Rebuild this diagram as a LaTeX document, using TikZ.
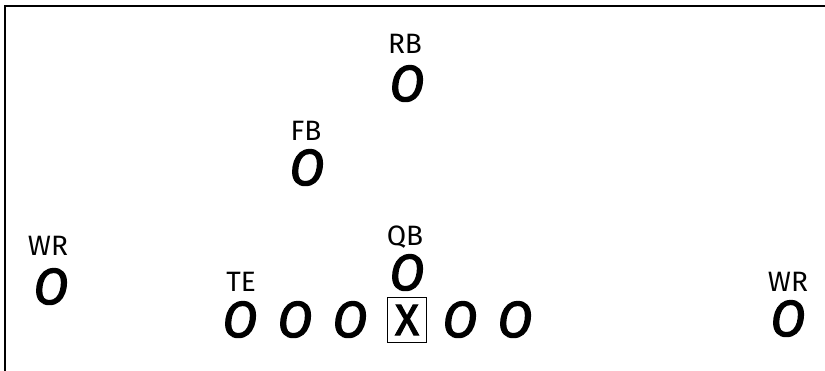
\documentclass[tikz,border=0pt]{standalone}
\usepackage{fontspec}
\setmainfont{Fira Sans}
\newfontfamily\playerfont[FakeBold=2.5,ItalicFeatures={FakeBold=2.5}]{Fira Sans}
\usetikzlibrary{positioning}
\tikzset{
    % Player markers
    player/.style={
        inner sep=0pt,
        anchor=base,
        font=\playerfont\fontsize{38}{38}\selectfont\itshape
    },
    % Position labels
    poslabel/.style={
        inner sep=0pt,
        anchor=base,
        font=\fontsize{21}{21}\selectfont
    },
    % Boxed center
    centerbox/.style={
        draw=black,
        line width=1pt,
        inner sep=0pt,
        minimum width=29pt,
        minimum height=34pt,
        font=\playerfont\fontsize{33}{33}\selectfont
    },
    % Field edges
    fieldedge/.style={
        line width=1.4pt,
        black
    }
}

\begin{document}
\begin{tikzpicture}[x=0.75pt,y=-0.75pt]
\useasboundingbox (0,0) rectangle (825,371);

% === FIELD EDGES ===
\coordinate (edgebl) at (5,371);
\coordinate (edgetl) at (5,6);
\coordinate (edgetr) at (825,6);
\draw[fieldedge] (edgebl) -- (edgetl) -- (edgetr);

% === BACKFIELD ===
\node[poslabel] (rblabel) at (405,53) {RB};
\node[player] (rb) at (407,101) {O};

\node[poslabel] (fblabel) at (306,140) {FB};
\node[player] (fb) at (307,185) {O};

\node[poslabel] (qblabel) at (405,245) {QB};
\node[player] (qb) at (407,290) {O};

% === RECEIVERS ===
\node[poslabel] (wrleftlabel) at (48,255) {WR};
\node[player] (wrleft) at (51,304) {O};

\node[poslabel] (wrrightlabel) at (788,291) {WR};
\node[player] (wrright) at (788,336) {O};

% === LINE ===
\node[poslabel] (telabel) at (241,291) {TE};
\foreach \px/\name in {240/te, 295/lt, 350/lg, 460/rg, 515/rt}
    \node[player] (\name) at (\px,337) {O};

\node[centerbox] (center) at (407,320) {X};

\end{tikzpicture}
\end{document}
